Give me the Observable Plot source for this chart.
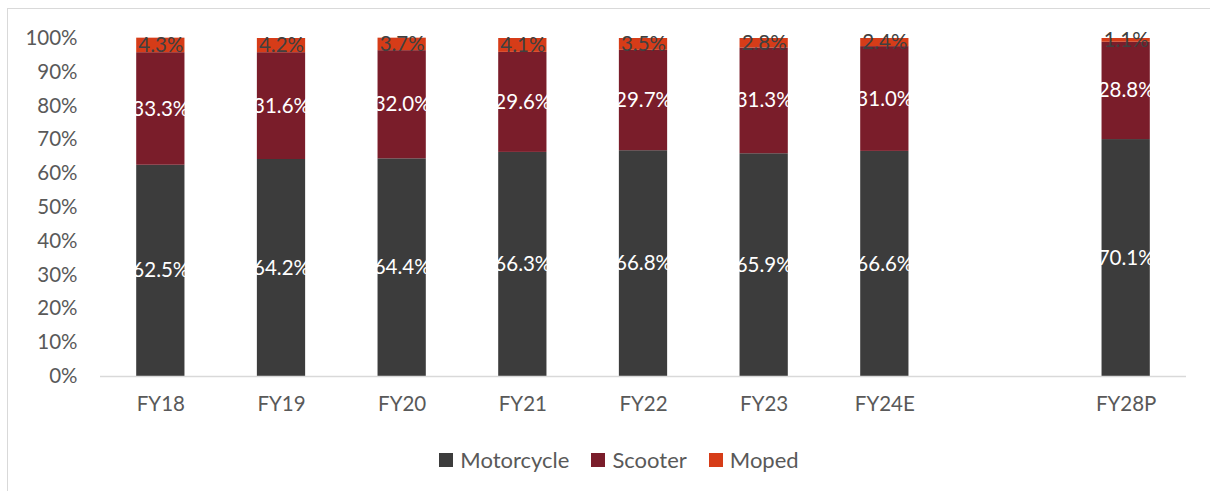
<!DOCTYPE html>
<html>
<head>
<meta charset="utf-8">
<script src="https://cdn.jsdelivr.net/npm/d3@7"></script>
<script src="https://cdn.jsdelivr.net/npm/@observablehq/plot@0.6"></script>
<style>
  html, body { margin: 0; padding: 0; background: #fff; }
  #wrap { position: relative; width: 1210px; height: 491px; overflow: hidden; font-family: Lato, "Open Sans", sans-serif; }
  #frame { position: absolute; left: 7px; top: 8px; width: 1210px; height: 500px; border: 1px solid #d9d9d9; box-sizing: border-box; }
  #chart { position: absolute; left: 0; top: 0; }
  #legend { position: absolute; left: 14px; top: 446px; width: 1210px; display: flex; justify-content: center; gap: 22px; font-size: 22px; color: #595959; }
  #legend .item { display: flex; align-items: center; gap: 7px; }
  #legend .sw { width: 14px; height: 14px; display: inline-block; }
</style>
</head>
<body>
<div id="wrap">
  <div id="frame"></div>
  <div id="chart"></div>
  <div id="legend"></div>
</div>
<script>
const categories = ["FY18", "FY19", "FY20", "FY21", "FY22", "FY23", "FY24E", " ", "FY28P"];
const periods = ["FY18", "FY19", "FY20", "FY21", "FY22", "FY23", "FY24E", "FY28P"];
const series = ["Motorcycle", "Scooter", "Moped"];
const motorcycle = [62.5, 64.2, 64.4, 66.3, 66.8, 65.9, 66.6, 70.1];
const scooter = [33.3, 31.6, 32.0, 29.6, 29.7, 31.3, 31.0, 28.8];
const moped = [4.3, 4.2, 3.7, 4.1, 3.5, 2.8, 2.4, 1.1];
const colors = ["#3c3c3c", "#7a1d2a", "#d63c18"];
const labelColors = ["#ffffff", "#ffffff", "#404040"];
const yTicks = [0, 10, 20, 30, 40, 50, 60, 70, 80, 90, 100];

const valuesBySeries = [motorcycle, scooter, moped];
const data = [];
periods.forEach((p, i) => {
  series.forEach((s, j) => {
    data.push({period: p, type: s, value: valuesBySeries[j][i], order: j});
  });
});

const font = "Lato, 'Open Sans', sans-serif";

const chart = Plot.plot({
  width: 1210,
  height: 430,
  marginLeft: 100,
  marginRight: 24,
  marginTop: 38,
  marginBottom: 54,
  style: { fontFamily: font, fontSize: "20px", color: "#595959", background: "transparent", overflow: "visible" },
  x: { domain: categories, paddingInner: 0.6, paddingOuter: 0.3, round: false, label: null },
  y: { domain: [0, 100], label: null },
  color: { domain: series, range: colors },
  marks: [
    Plot.axisY({ ticks: yTicks, tickSize: 0, tickPadding: 23, tickFormat: d => d + "%", fontSize: 20.5, fill: "#595959", label: null }),
    Plot.axisX({ tickSize: 0, tickPadding: 20, fontSize: 20.5, fill: "#595959", label: null }),
    Plot.barY(data, Plot.stackY({ x: "period", y: "value", fill: "type", order: "order" })),
    Plot.ruleY([0], { stroke: "#d9d9d9", strokeWidth: 1.5 }),
    Plot.text(data, Plot.stackY({
      x: "period", y: "value", z: "type", order: "order",
      text: d => d.value.toFixed(1) + "%",
      fill: d => labelColors[d.order],
      fontSize: 20.5
    }))
  ]
});
document.getElementById("chart").appendChild(chart);

const legend = document.getElementById("legend");
series.forEach((s, i) => {
  const item = document.createElement("div");
  item.className = "item";
  const sw = document.createElement("span");
  sw.className = "sw";
  sw.style.background = colors[i];
  const lab = document.createElement("span");
  lab.textContent = s;
  item.appendChild(sw);
  item.appendChild(lab);
  legend.appendChild(item);
});
</script>
</body>
</html>
